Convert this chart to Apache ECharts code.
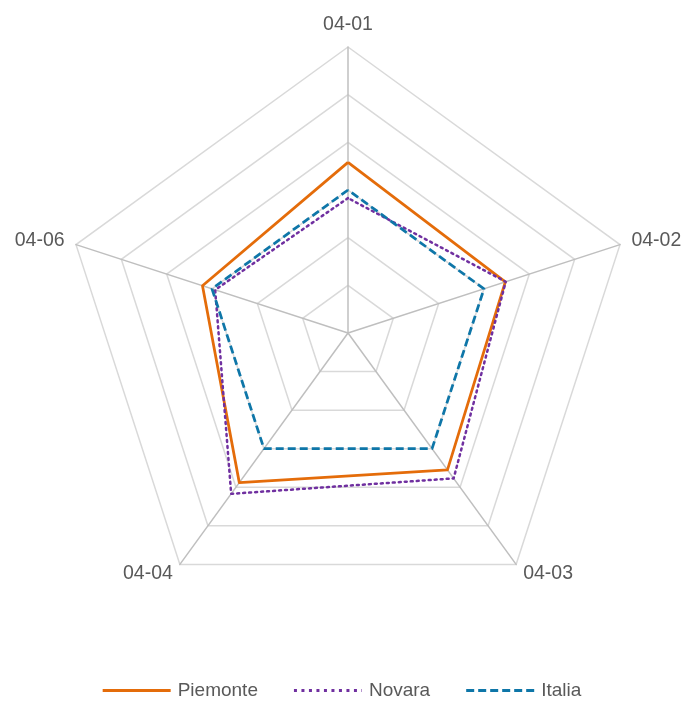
<!DOCTYPE html>
<html><head><meta charset="utf-8">
<script src="https://cdn.jsdelivr.net/npm/echarts@6/dist/echarts.min.js"></script>
<style>html,body{margin:0;padding:0;background:#fff}#c{width:684px;height:701px}</style>
</head><body><div id="c"></div>
<script>
const categories = ['04-01', '04-02', '04-03', '04-04', '04-06'];
const piemonte = [3.58, 3.47, 3.55, 3.88, 3.21];
const novara = [2.83, 3.48, 3.77, 4.17, 2.93];
const italia = [3.0, 3.0, 3.0, 3.0, 3.0];
const axisMax = 6;

// ECharts places radar indicators counter-clockwise; reorder to show clockwise
const order = [0, 4, 3, 2, 1];
const reorder = arr => order.map(i => arr[i]);

function dashPath(w, h, dash, gap) {
  let p = '', x = 0;
  while (x < w) {
    const len = Math.min(dash, w - x);
    p += 'M' + x + ',0h' + len + 'v' + h + 'h' + (-len) + 'z';
    x += dash + gap;
  }
  return 'path://' + p;
}

const FONT = '"Liberation Sans", Arial, sans-serif';
const chart = echarts.init(document.getElementById('c'));
chart.setOption({
  animation: false,
  backgroundColor: '#ffffff',
  legend: {
    top: 676,
    left: 'center',
    itemGap: 36,
    itemWidth: 68,
    itemHeight: 3,
    textStyle: { color: '#595959', fontSize: 19, fontFamily: FONT, padding: [0, 0, 0, 2] },
    data: [
      { name: 'Piemonte', icon: 'path://M0,0h68v3h-68z' },
      { name: 'Novara', icon: dashPath(68, 3, 3, 4.5) },
      { name: 'Italia', icon: dashPath(68, 3, 8, 4) }
    ]
  },
  radar: {
    center: [348, 333],
    radius: 286,
    startAngle: 90,
    shape: 'polygon',
    splitNumber: 6,
    indicator: reorder(categories).map(n => ({ name: n, max: axisMax, min: 0 })),
    axisName: { color: '#595959', fontSize: 19.5, fontFamily: FONT },
    nameGap: 12,
    splitArea: { show: false },
    splitLine: { lineStyle: { color: '#d9d9d9', width: 1.5 } },
    axisLine: { lineStyle: { color: '#bfbfbf', width: 1.5 } },
    axisTick: { show: false },
    axisLabel: { show: false }
  },
  series: [{
    type: 'radar',
    symbol: 'none',
    data: [
      { name: 'Piemonte', value: reorder(piemonte), lineStyle: { color: '#e46c0a', width: 2.75 }, itemStyle: { color: '#e46c0a' } },
      { name: 'Novara', value: reorder(novara), lineStyle: { color: '#7030a0', width: 2.5, type: [2, 4], cap: 'round' }, itemStyle: { color: '#7030a0' } },
      { name: 'Italia', value: reorder(italia), lineStyle: { color: '#0e76a8', width: 2.75, type: [8, 4] }, itemStyle: { color: '#0e76a8' } }
    ]
  }]
});
</script></body></html>
